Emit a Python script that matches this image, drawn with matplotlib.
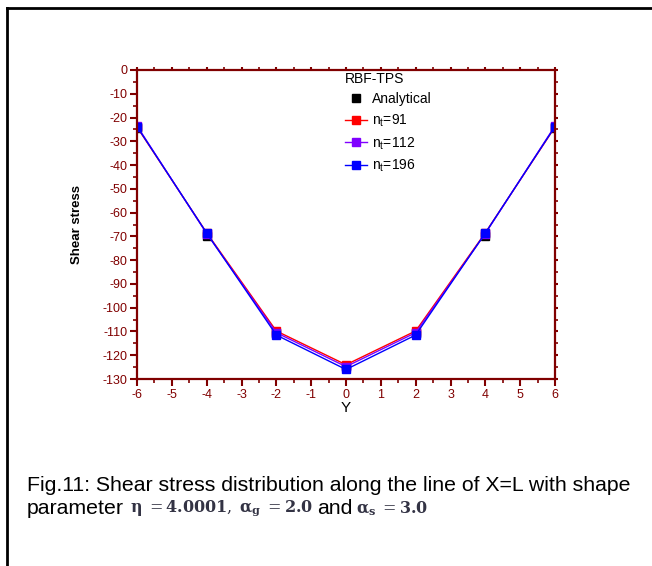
import matplotlib
matplotlib.use("Agg")
import matplotlib.pyplot as plt
from matplotlib.ticker import MultipleLocator
from matplotlib.lines import Line2D

plt.rcParams['font.family'] = ['Liberation Sans', 'DejaVu Sans']
plt.rcParams['mathtext.fontset'] = 'dejavuserif'
plt.rcParams['axes.unicode_minus'] = False

y_pos = [-6, -4, -2, 0, 2, 4, 6]
analytical = [-24.5, -69.8, -110.8, -124.5, -110.8, -69.8, -24.5]
nt91 = [-24.0, -68.5, -109.8, -124.0, -109.8, -68.5, -24.0]
nt112 = [-23.5, -68.8, -110.5, -124.8, -110.5, -68.8, -23.5]
nt196 = [-23.8, -68.6, -111.5, -126.0, -111.5, -68.6, -23.8]

dark_red = '#800000'

fig = plt.figure(figsize=(6.52, 5.66), dpi=100)
# outer frame (left and top visible)
fig.add_artist(Line2D([7/652, 7/652], [0, 1 - 8/566], color='black', lw=2.0, transform=fig.transFigure))
fig.add_artist(Line2D([7/652, 1.0], [1 - 8/566, 1 - 8/566], color='black', lw=2.0, transform=fig.transFigure))

ax = fig.add_axes([137/652, 1 - 379/566, (555 - 137)/652, (379 - 70)/566])

ax.plot(y_pos, analytical, linestyle='none', marker='s', color='black', markersize=5.5, label='Analytical')
ax.plot(y_pos, nt91, color='#ff0000', lw=1.0, marker='s', markersize=5.5, label='n$_\\mathregular{t}$=91')
ax.plot(y_pos, nt112, color='#8000ff', lw=1.0, marker='s', markersize=5.5, label='n$_\\mathregular{t}$=112')
ax.plot(y_pos, nt196, color='#0000ff', lw=1.0, marker='s', markersize=5.5, label='n$_\\mathregular{t}$=196')

ax.set_xlim(-6, 6)
ax.set_ylim(-130, 0)
ax.xaxis.set_major_locator(MultipleLocator(1))
ax.xaxis.set_minor_locator(MultipleLocator(0.5))
ax.yaxis.set_major_locator(MultipleLocator(10))
ax.yaxis.set_minor_locator(MultipleLocator(5))

for s in ax.spines.values():
    s.set_color(dark_red)
    s.set_linewidth(1.6)

ax.tick_params(axis='both', which='major', direction='out', length=5, width=1.5,
               colors=dark_red, labelsize=9, pad=2)
ax.tick_params(axis='both', which='minor', direction='out', length=3, width=1.2, colors=dark_red)
ax.tick_params(top=True, right=True, which='both')
for t in ax.xaxis.get_major_ticks() + ax.xaxis.get_minor_ticks():
    t.tick2line.set_markersize(2)
for t in ax.yaxis.get_major_ticks() + ax.yaxis.get_minor_ticks():
    t.tick2line.set_markersize(2)

ax.set_xlabel('Y', fontsize=11, color='black', labelpad=0)
ax.set_ylabel('Shear stress', fontsize=9.5, fontweight='bold', color='black', labelpad=14)

leg = ax.legend(title='RBF-TPS', loc='upper left', bbox_to_anchor=(0.475, 1.025),
                frameon=False, fontsize=10, title_fontsize=10, handlelength=1.6,
                handletextpad=0.3, labelspacing=0.45, borderpad=0.2)
leg._legend_box.align = 'left'

cap_fs = 15.3
fig.text(27/652, 1 - 491/566,
         'Fig.11: Shear stress distribution along the line of X=L with shape',
         fontsize=cap_fs, color='black', va='baseline', ha='left')

# second caption line built from pieces
math_fs = 11.5
t0 = fig.text(27/652, 1 - 514/566, 'parameter', fontsize=cap_fs, color='black',
              va='baseline', ha='left')
pieces = [
    ('$\\mathbf{\\eta}$ $= \\mathbf{4.0001},$ $\\mathbf{\\alpha_g}$ $= \\mathbf{2.0}$', math_fs, '#333344', 4),
    ('and', cap_fs, 'black', 3),
    ('$\\mathbf{\\alpha_s}$ $= \\mathbf{3.0}$', math_fs, '#333344', 3),
]
anchor = t0
for txt, fs, col, gap in pieces:
    anchor = ax.annotate(txt, xy=(1, 0), xycoords=anchor, xytext=(gap, 0),
                         textcoords='offset points', fontsize=fs, color=col,
                         va='bottom', ha='left', annotation_clip=False)

fig.savefig('out.png', dpi=100)
